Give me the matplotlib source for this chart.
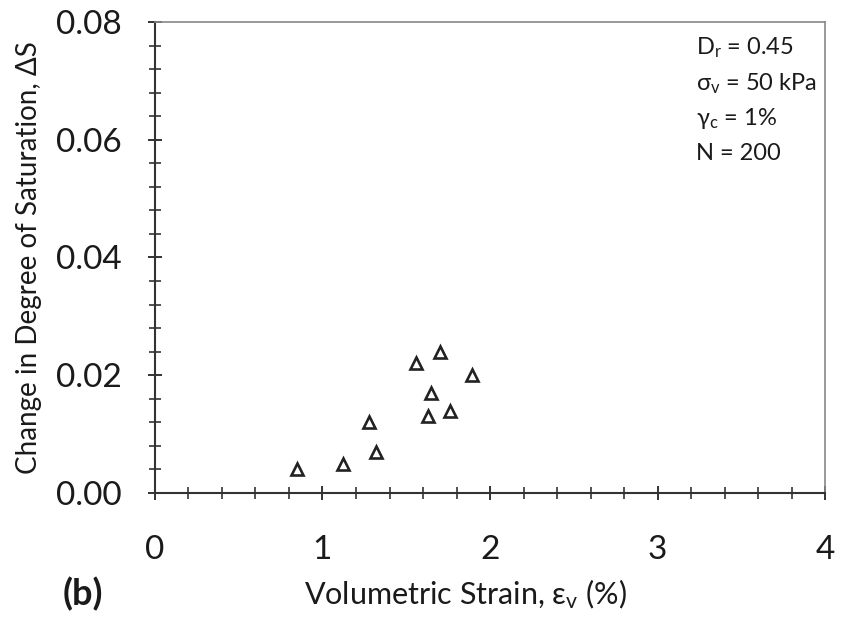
import matplotlib
matplotlib.use("Agg")
import matplotlib.pyplot as plt
from matplotlib.ticker import MultipleLocator, FormatStrFormatter

plt.rcParams['font.family'] = ['Lato', 'Noto Sans', 'DejaVu Sans']
plt.rcParams['mathtext.fontset'] = 'custom'
plt.rcParams['mathtext.rm'] = 'Lato'
plt.rcParams['mathtext.it'] = 'Lato:italic'

# volumetric strain (%) vs change in degree of saturation
strain = [0.85, 1.12, 1.28, 1.32, 1.56, 1.70, 1.89, 1.65, 1.63, 1.76]
dsat = [0.004, 0.005, 0.012, 0.007, 0.022, 0.024, 0.020, 0.017, 0.013, 0.014]

notes = ["D$_\\mathrm{r}$ = 0.45", "σ$_\\mathrm{v}$ = 50 kPa",
         "γ$_\\mathrm{c}$ = 1%", "N = 200"]

fig = plt.figure(figsize=(8.42, 6.19), dpi=100)
ax = fig.add_axes([0.184, 0.2036, 0.796, 0.7609])

ax.plot(strain, dsat, linestyle='none', marker='^', ms=9,
        mfc='white', mec='#222222', mew=1.9)

ax.set_xlim(0, 4)
ax.set_ylim(0, 0.08)
ax.xaxis.set_major_locator(MultipleLocator(1))
ax.xaxis.set_minor_locator(MultipleLocator(0.2))
ax.yaxis.set_major_locator(MultipleLocator(0.02))
ax.yaxis.set_minor_locator(MultipleLocator(0.004))
ax.yaxis.set_major_formatter(FormatStrFormatter('%.2f'))
ax.xaxis.set_major_formatter(FormatStrFormatter('%d'))

ax.tick_params(which='major', direction='inout', length=10, width=1.4,
               labelsize=24, color='#333333', labelcolor='#1a1a1a')
ax.tick_params(which='minor', direction='inout', length=8, width=1.2,
               color='#333333')
ax.tick_params(axis='x', which='major', pad=25)
ax.tick_params(axis='y', which='major', pad=19)

for side in ['left', 'bottom']:
    ax.spines[side].set_linewidth(1.5)
    ax.spines[side].set_color('#333333')
for side in ['top', 'right']:
    ax.spines[side].set_linewidth(1.2)
    ax.spines[side].set_color('#888888')

ax.set_xlabel("Volumetric Strain, ε$_\\mathrm{v}$ (%)", fontsize=22, color='#1a1a1a')
ax.xaxis.set_label_coords(0.463, -0.18)
ax.set_ylabel("Change in Degree of Saturation, ΔS", fontsize=20, color='#1a1a1a')
ax.yaxis.set_label_coords(-0.169, 0.5)

y0 = 0.945
for i, t in enumerate(notes):
    ax.text(0.808, y0 - i * 0.075, t, transform=ax.transAxes, fontsize=17,
            va='center', ha='left', color='#1a1a1a')

fig.text(0.074, 0.012, "(b)", fontsize=26, fontweight='bold', color='#1a1a1a',
         va='bottom')

fig.savefig("out.png", dpi=100, facecolor='white')
